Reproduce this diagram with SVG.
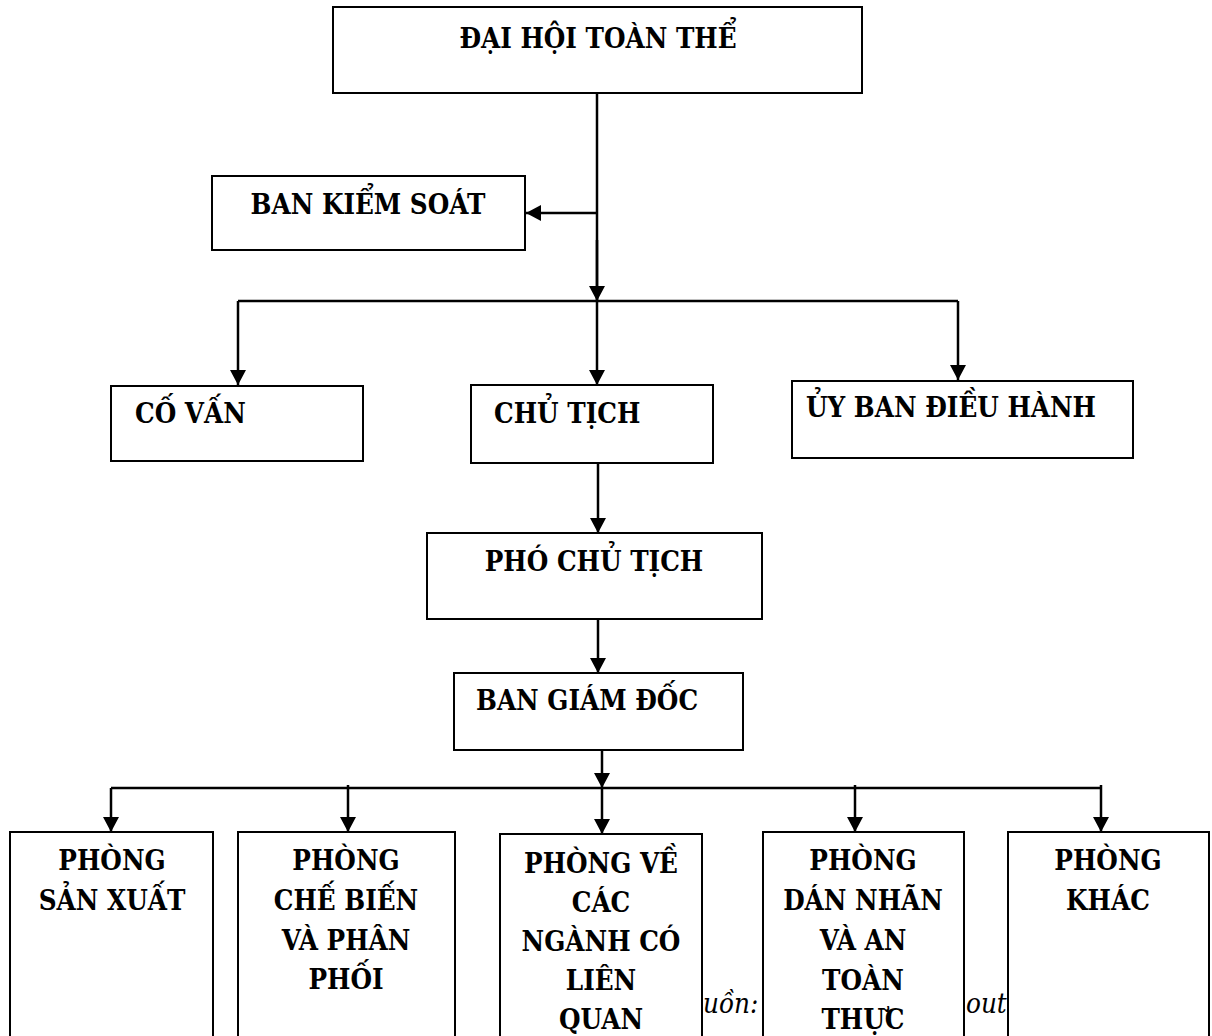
<svg xmlns="http://www.w3.org/2000/svg" width="1212" height="1036" viewBox="0 0 1212 1036">
<style>
.box{fill:#fff;stroke:#000;stroke-width:2}
.t{font-family:'DejaVu Serif Condensed','DejaVu Serif',serif;font-stretch:condensed;font-weight:bold;font-size:27.5px;fill:#000}
.c{text-anchor:middle}
.it{font-family:'DejaVu Serif Condensed','DejaVu Serif',serif;font-stretch:condensed;font-style:italic;font-size:27.5px;fill:#000}
.ln{fill:none;stroke:#000;stroke-width:2.5}
.ar{fill:none;stroke:#000;stroke-width:2.5;marker-end:url(#ah)}
</style>
<defs>
<marker id="ah" markerUnits="userSpaceOnUse" markerWidth="16" markerHeight="16" viewBox="0 0 16 16" refX="15" refY="8" orient="auto">
<path d="M0,0 L15,8 L0,16 Z" fill="#000"/>
</marker>
</defs>
<rect width="1212" height="1036" fill="#fff"/>
<text class="it" x="703" y="1013">uồn:</text>
<text class="it" x="966" y="1013">out</text>
<g id="connectors">
<path class="ln" d="M597,93 V301"/>
<path class="ar" d="M597,213 H526"/>
<path class="ar" d="M597,240 V301"/>
<path class="ln" d="M238,301 H958"/>
<path class="ar" d="M238,301 V385"/>
<path class="ar" d="M597,301 V385"/>
<path class="ar" d="M958,301 V380"/>
<path class="ar" d="M598,463 V533"/>
<path class="ar" d="M598,619 V673"/>
<path class="ar" d="M602,750 V788"/>
<path class="ln" d="M111,788 H1101"/>
<path class="ar" d="M111,788 V832"/>
<path class="ar" d="M348,785 V832"/>
<path class="ar" d="M602,788 V834"/>
<path class="ar" d="M855,785 V832"/>
<path class="ar" d="M1101,785 V832"/>
</g>
<g id="dai-hoi"><rect class="box" x="333" y="7" width="529" height="86"/><text class="t c" x="598" y="48">ĐẠI HỘI TOÀN THỂ</text></g>
<g id="ban-kiem-soat"><rect class="box" x="212" y="176" width="313" height="74"/><text class="t c" x="368" y="214">BAN KIỂM SOÁT</text></g>
<g id="co-van"><rect class="box" x="111" y="386" width="252" height="75"/><text class="t" x="135" y="423">CỐ VẤN</text></g>
<g id="chu-tich"><rect class="box" x="471" y="385" width="242" height="78"/><text class="t" x="494" y="423">CHỦ TỊCH</text></g>
<g id="uy-ban"><rect class="box" x="792" y="381" width="341" height="77"/><text class="t" x="806" y="417">ỦY BAN ĐIỀU HÀNH</text></g>
<g id="pho-chu-tich"><rect class="box" x="427" y="533" width="335" height="86"/><text class="t c" x="594" y="571">PHÓ CHỦ TỊCH</text></g>
<g id="ban-giam-doc"><rect class="box" x="454" y="673" width="289" height="77"/><text class="t" x="476" y="710">BAN GIÁM ĐỐC</text></g>
<g id="phong-san-xuat"><rect class="box" x="10" y="832" width="203" height="220"/><text class="t c" x="112" y="870">PHÒNG</text><text class="t c" x="112" y="910">SẢN XUẤT</text></g>
<g id="phong-che-bien"><rect class="box" x="238" y="832" width="217" height="220"/><text class="t c" x="346" y="870">PHÒNG</text><text class="t c" x="346" y="910">CHẾ BIẾN</text><text class="t c" x="346" y="950">VÀ PHÂN</text><text class="t c" x="346" y="989">PHỐI</text></g>
<g id="phong-nganh"><rect class="box" x="500" y="834" width="202" height="220"/><text class="t c" x="601" y="873">PHÒNG VỀ</text><text class="t c" x="601" y="912">CÁC</text><text class="t c" x="601" y="951">NGÀNH CÓ</text><text class="t c" x="601" y="990">LIÊN</text><text class="t c" x="601" y="1029">QUAN</text></g>
<g id="phong-dan-nhan"><rect class="box" x="763" y="832" width="201" height="220"/><text class="t c" x="863" y="870">PHÒNG</text><text class="t c" x="863" y="910">DÁN NHÃN</text><text class="t c" x="863" y="950">VÀ AN</text><text class="t c" x="863" y="990">TOÀN</text><text class="t c" x="863" y="1029">THỰC</text></g>
<g id="phong-khac"><rect class="box" x="1008" y="832" width="201" height="220"/><text class="t c" x="1108" y="870">PHÒNG</text><text class="t c" x="1108" y="910">KHÁC</text></g>
</svg>
